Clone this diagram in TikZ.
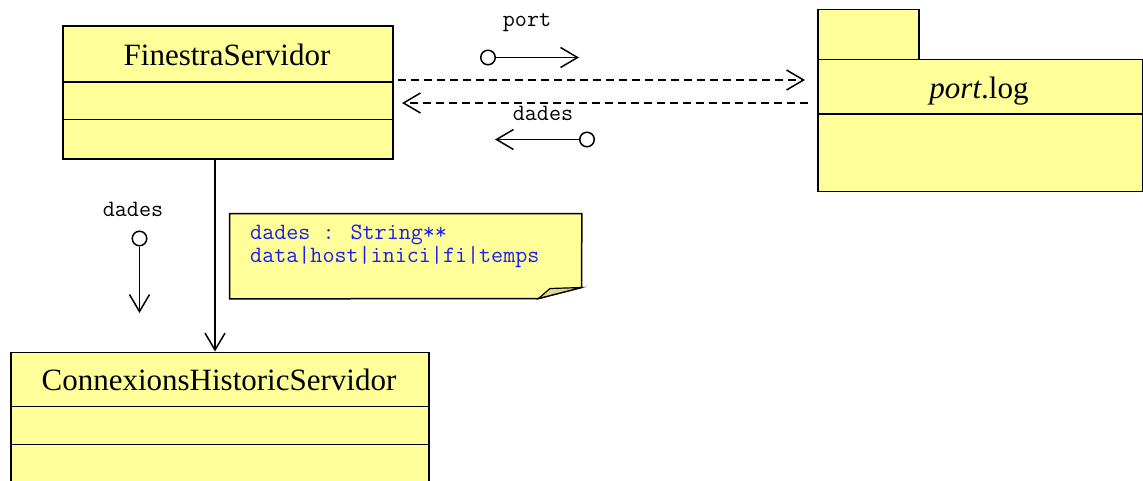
\documentclass[tikz,border=0pt]{standalone}
\usepackage{fontspec}
\setmainfont{Liberation Serif}
\usetikzlibrary{arrows.meta}
\definecolor{umlyellow}{RGB}{255,255,153}
\definecolor{notefold}{RGB}{222,218,140}
\definecolor{noteblue}{RGB}{30,30,235}
\newcommand{\monofont}{\ttfamily\fontsize{23.4}{20.5}\selectfont}
\tikzset{
  umlbox/.style={draw=black, line width=1.5pt, fill=umlyellow, inner sep=0pt, anchor=north west},
  divider/.style={draw=black, line width=1.5pt},
  classname/.style={font=\fontsize{31}{33}\selectfont, anchor=base, inner sep=0pt},
  monolabel/.style={font=\monofont, anchor=base, inner sep=0pt},
  openhead/.style={-{Straight Barb[length=17pt,width=20pt,line width=1.5pt]}},
  solidlink/.style={line width=1.5pt, openhead},
  dashlink/.style={line width=1.5pt, dash pattern=on 8pt off 5pt, openhead},
  lolly/.style={circle, draw=black, line width=1.5pt, fill=white, inner sep=0pt, minimum size=14.5pt}
}
\begin{document}
\begin{tikzpicture}[x=1pt, y=-1pt]
\useasboundingbox (0,0) rectangle (1143,480);

% class FinestraServidor
\node[umlbox, minimum width=330pt, minimum height=133pt] (fs) at (62,25) {};
\node[classname] (fsname) at (227,65) {FinestraServidor};
\draw[divider] (62,82) -- (392,82);
\draw[divider] (62,119.5) -- (392,119.5);

% class ConnexionsHistoricServidor
\node[umlbox, minimum width=418pt, minimum height=135pt] (chs) at (10,351.5) {};
\node[classname] (chsname) at (219,390) {ConnexionsHistoricServidor};
\draw[divider] (10,406.5) -- (428,406.5);
\draw[divider] (10,444.5) -- (428,444.5);

% package port.log
\node[umlbox, minimum width=101pt, minimum height=50pt] (tab) at (817,8.5) {};
\node[umlbox, minimum width=324.5pt, minimum height=132pt] (pkg) at (817,58.5) {};
\node[classname] (pkgname) at (979,98.5) {\textit{port}.log};
\draw[divider] (817,114) -- (1141.5,114);

% dependencies between FinestraServidor and port.log
\coordinate (fsR1) at (398,80);
\coordinate (pkgL1) at (805,80);
\coordinate (pkgL2) at (808,103);
\coordinate (fsR2) at (402,103);
\draw[dashlink] (fsR1) -- (pkgL1);
\draw[dashlink] (pkgL2) -- (fsR2);

% data-flow lollipops
\node[monolabel] (portlbl) at (527,26.5) {port};
\node[lolly] (portc) at (488,57.5) {};
\coordinate (portend) at (579,57.5);
\draw[solidlink] (portc) -- (portend);

\node[monolabel] (dadeslbl1) at (543,120) {dades};
\node[lolly] (dadesc1) at (587,139.5) {};
\coordinate (dadesend1) at (495,139.5);
\draw[solidlink] (dadesc1) -- (dadesend1);

\node[monolabel] (dadeslbl2) at (133,216.5) {dades};
\node[lolly] (dadesc2) at (139.5,238.5) {};
\coordinate (dadesend2) at (139.5,313);
\draw[solidlink] (dadesc2) -- (dadesend2);

% association FinestraServidor -> ConnexionsHistoricServidor
\draw[solidlink] (fs.south -| 215,0) -- (chs.north -| 215,0);

% note with folded corner
\node[inner sep=0pt, minimum width=352pt, minimum height=85pt, anchor=north west] (note) at (229.5,213.5) {};
\draw[line width=1.5pt, fill=umlyellow]
  (note.north west) -- (note.north east) -- (581.5,287.5) -- (538.5,298.5) -- (note.south west) -- cycle;
\draw[line width=1.2pt, fill=notefold] (538.5,298.5) -- (550,288.5) -- (581.5,287.5) -- cycle;
\node[font=\monofont, text=noteblue, align=left, anchor=base west, inner sep=0pt] (notetext) at (250,262)
  {dades : String**\\data|host|inici|fi|temps};
\end{tikzpicture}
\end{document}
